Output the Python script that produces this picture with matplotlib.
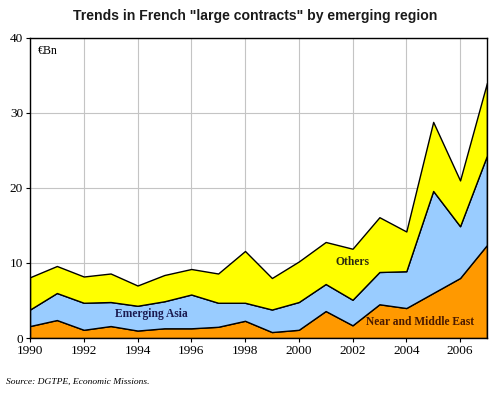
import matplotlib
matplotlib.use('Agg')
import matplotlib.pyplot as plt
import numpy as np

years = list(range(1990, 2008))
near_middle_east = [1.6, 2.4, 1.1, 1.6, 1.0, 1.3, 1.3, 1.5, 2.3, 0.8, 1.1, 3.6, 1.7, 4.5, 4.0, 6.0, 8.0, 12.4]
asia_top = [3.8, 6.0, 4.7, 4.8, 4.3, 4.9, 5.8, 4.7, 4.7, 3.8, 4.8, 7.2, 5.1, 8.8, 8.9, 19.6, 14.9, 24.3]
total = [8.1, 9.6, 8.2, 8.6, 7.0, 8.4, 9.2, 8.6, 11.6, 8.0, 10.2, 12.8, 11.9, 16.1, 14.2, 28.8, 21.0, 34.0]

# stacked layers from the cumulative readings
emerging_asia = list(np.array(asia_top) - np.array(near_middle_east))
others = list(np.array(total) - np.array(asia_top))

fig = plt.figure(figsize=(4.94, 3.94), dpi=100)
ax = fig.add_axes([0.0607, 0.142, 0.925, 0.762])

ax.stackplot(years, near_middle_east, emerging_asia, others,
             colors=['#FF9900', '#99CCFF', '#FFFF00'],
             edgecolor='black', linewidth=1.0, zorder=2)

ax.set_xlim(1990, 2007)
ax.set_ylim(0, 40)
ax.set_xticks(range(1990, 2007, 2))
ax.set_yticks([0, 10, 20, 30, 40])
ax.grid(True, color='#C4C4C4', linewidth=0.8, zorder=0)
ax.set_axisbelow(True)
ax.tick_params(direction='out', length=3, width=0.8, pad=2)
for lab in ax.get_xticklabels() + ax.get_yticklabels():
    lab.set_family('Liberation Serif')
    lab.set_fontsize(9.5)
for s in ax.spines.values():
    s.set_linewidth(1.0)

ax.text(1990.3, 38.3, '€Bn', family='Liberation Serif', fontsize=8.5, va='center')
ax.text(1994.5, 3.2, 'Emerging Asia', family='Liberation Serif', fontsize=8.3,
        fontweight='bold', color='#1A1A50', ha='center', va='center', zorder=3)
ax.text(2002.0, 10.1, 'Others', family='Liberation Serif', fontsize=8.3,
        fontweight='bold', color='#2A2A10', ha='center', va='center', zorder=3)
ax.text(2004.5, 2.1, 'Near and Middle East', family='Liberation Serif', fontsize=8.3,
        fontweight='bold', color='#4A1A00', ha='center', va='center', zorder=3)

fig.text(0.517, 0.959, 'Trends in French "large contracts" by emerging region',
         family='Liberation Sans', fontsize=10.1, fontweight='bold', color='#1A1A1A',
         ha='center', va='center')
fig.text(0.012, 0.032, 'Source: DGTPE, Economic Missions.', family='Liberation Serif',
         fontsize=6.8, style='italic', ha='left', va='center')

fig.savefig('out.png', dpi=100)
